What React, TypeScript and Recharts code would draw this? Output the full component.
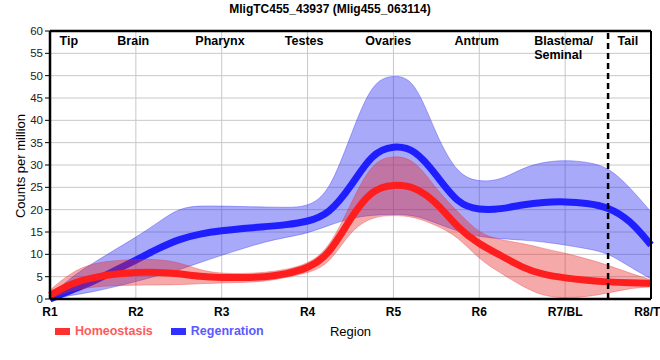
import React from 'react';
import {
  ComposedChart,
  Area,
  Line,
  XAxis,
  YAxis,
  CartesianGrid,
  ReferenceLine,
} from 'recharts';

// sample positions along the body axis (1 = R1 ... 8 = R8)
const positions = [1, 1.25, 1.5, 1.75, 2, 2.25, 2.5, 2.75, 3, 3.25, 3.5, 3.75, 4, 4.25, 4.5, 4.75, 5, 5.25, 5.5, 5.75, 6, 6.25, 6.5, 6.75, 7, 7.25, 7.5, 7.75, 8];
const regionTicks = ['R1', 'R2', 'R3', 'R4', 'R5', 'R6', 'R7/BL', 'R8/TL'];

const homeoMean = [0.8, 3.6, 4.8, 5.6, 6.0, 6.0, 5.7, 5.0, 4.8, 4.8, 4.9, 5.6, 6.8, 9.8, 18.2, 24.6, 25.7, 25.2, 21.7, 15.9, 12.2, 9.8, 7.0, 5.4, 4.7, 4.2, 3.8, 3.6, 3.5];
const homeoLow = [0, 2.0, 2.7, 3.0, 3.1, 3.1, 3.2, 3.4, 3.6, 3.7, 3.9, 4.8, 5.8, 7.6, 15.4, 18.4, 18.8, 18.4, 16.5, 14.0, 8.8, 5.8, 2.8, 0.6, 0.2, 0.5, 1.3, 2.4, 2.7];
const homeoHigh = [2.0, 6.1, 8.0, 8.6, 8.9, 8.9, 8.3, 6.4, 5.7, 5.7, 5.9, 6.6, 7.8, 11.2, 21.2, 30.8, 32.2, 31.3, 24.5, 19.5, 14.6, 13.2, 12.5, 11.3, 10.3, 9.0, 7.6, 5.8, 4.3];

const regenMean = [0, 2.0, 3.9, 6.3, 8.7, 11.2, 13.4, 14.6, 15.3, 15.8, 16.2, 16.6, 17.3, 19.0, 25.0, 32.7, 34.4, 33.6, 27.8, 21.2, 19.9, 20.1, 21.1, 21.7, 21.8, 21.5, 20.6, 17.8, 12.1];
const regenLow = [0, 0.8, 1.6, 2.7, 3.9, 5.2, 6.5, 8.2, 9.8, 11.3, 12.8, 13.8, 14.7, 16.5, 18.1, 18.8, 19.0, 18.8, 17.0, 15.1, 13.9, 13.5, 13.2, 12.8, 12.1, 11.3, 10.3, 7.2, 4.5];
const regenHigh = [0.5, 5.0, 8.0, 11.0, 13.8, 17.0, 20.4, 20.9, 20.8, 20.7, 20.6, 20.5, 20.6, 23.7, 36.5, 48.8, 50.2, 49.3, 36.5, 27.7, 26.2, 26.6, 29.3, 30.7, 31.1, 30.7, 29.6, 25.1, 19.5];

const tissueLabels = [
  { lines: ['Tip'], at: 1.22, anchor: 'middle' },
  { lines: ['Brain'], at: 1.97, anchor: 'middle' },
  { lines: ['Pharynx'], at: 2.98, anchor: 'middle' },
  { lines: ['Testes'], at: 3.96, anchor: 'middle' },
  { lines: ['Ovaries'], at: 4.94, anchor: 'middle' },
  { lines: ['Antrum'], at: 5.97, anchor: 'middle' },
  { lines: ['Blastema/', 'Seminal'], at: 6.64, anchor: 'start' },
  { lines: ['Tail'], at: 7.73, anchor: 'middle' },
];

const yTicks = [0, 5, 10, 15, 20, 25, 30, 35, 40, 45, 50, 55, 60];
const xTicks = [1, 2, 3, 4, 5, 6, 7, 8];

const FONT = '"Liberation Sans", Arial, sans-serif';
const RED = '#ff1e1e';
const BLUE = '#1e1eff';

const data = positions.map((x, i) => ({
  x,
  homeo: homeoMean[i],
  homeoBand: [homeoLow[i], homeoHigh[i]],
  regen: regenMean[i],
  regenBand: [regenLow[i], regenHigh[i]],
}));

function tissueLabel(lines: string[], anchor: string) {
  return (props: any) => {
    const vb = props.viewBox || {};
    return (
      <text
        x={vb.x}
        y={(vb.y ?? 31) + 14}
        textAnchor={anchor}
        fontFamily={FONT}
        fontSize={12.5}
        fontWeight="bold"
        fill="#000"
      >
        {lines.map((l, i) => (
          <tspan key={l} x={vb.x} dy={i === 0 ? 0 : 14}>
            {l}
          </tspan>
        ))}
      </text>
    );
  };
}

export default function App() {
  return (
    <div style={{ position: 'absolute', left: 0, top: 0, width: 660, height: 360, background: '#fff', fontFamily: FONT }}>
      <div style={{ position: 'absolute', left: 0, top: 2, width: 660, textAlign: 'center', fontSize: 12, fontWeight: 'bold', lineHeight: '14px' }}>
        MligTC455_43937 (Mlig455_063114)
      </div>
      <ComposedChart width={660} height={360} data={data} margin={{ top: 31, right: 9, bottom: 21, left: 0 }}>
        <CartesianGrid stroke="#c8c8c8" strokeWidth={1} />
        <XAxis
          dataKey="x"
          type="number"
          domain={[1, 8]}
          ticks={xTicks}
          tickFormatter={(v: number) => regionTicks[v - 1]}
          interval={0}
          height={40}
          axisLine={{ stroke: '#000', strokeWidth: 2.5 }}
          tickLine={false}
          tickSize={6}
          tickMargin={2}
          tick={{ fill: '#000', fontSize: 12, fontWeight: 'bold', fontFamily: FONT }}
          label={{ value: 'Region', position: 'insideBottom', offset: 3, fill: '#000', fontSize: 13, fontFamily: FONT }}
        />
        <YAxis
          type="number"
          domain={[0, 60]}
          ticks={yTicks}
          interval={0}
          width={50}
          axisLine={{ stroke: '#000', strokeWidth: 2.5 }}
          tickLine={{ stroke: '#000' }}
          tickSize={5}
          tickMargin={2}
          tick={{ fill: '#222', fontSize: 11.5, fontFamily: FONT }}
          label={() => (
            <text x={20} y={166} transform="rotate(-90 20 166)" textAnchor="middle" dominantBaseline="central" fontFamily={FONT} fontSize={13} fill="#000">
              Counts per million
            </text>
          )}
        />
        <Area
          dataKey="regenBand"
          type="basis"
          fill="rgb(40,40,240)"
          fillOpacity={0.4}
          stroke="rgb(40,40,240)"
          strokeOpacity={0.35}
          strokeWidth={1}
          isAnimationActive={false}
          zIndex={100}
        />
        <Line dataKey="regen" type="basis" stroke={BLUE} strokeWidth={7} dot={false} activeDot={false} isAnimationActive={false} zIndex={101} />
        <Area
          dataKey="homeoBand"
          type="basis"
          fill="rgb(230,40,40)"
          fillOpacity={0.4}
          stroke="rgb(230,40,40)"
          strokeOpacity={0.3}
          strokeWidth={1}
          isAnimationActive={false}
          zIndex={102}
        />
        <Line dataKey="homeo" type="basis" stroke={RED} strokeWidth={7} dot={false} activeDot={false} isAnimationActive={false} zIndex={103} />
        <ReferenceLine x={7.5} stroke="#000" strokeWidth={2.5} strokeDasharray="6 4" zIndex={600} />
        <ReferenceLine y={60} stroke="#000" strokeWidth={2.5} zIndex={600} />
        <ReferenceLine x={8} stroke="#000" strokeWidth={2} zIndex={600} />
        {tissueLabels.map((t) => (
          <ReferenceLine key={t.lines[0]} x={t.at} stroke="none" label={tissueLabel(t.lines, t.anchor)} zIndex={600} />
        ))}
      </ComposedChart>
      <div style={{ position: 'absolute', left: 55, top: 324, display: 'flex', alignItems: 'center', fontSize: 12.5, fontWeight: 'bold', lineHeight: '15px' }}>
        <span style={{ display: 'inline-block', width: 15, height: 7, background: '#ff3030', marginRight: 5 }} />
        <span style={{ color: '#ff5a5a', marginRight: 18 }}>Homeostasis</span>
        <span style={{ display: 'inline-block', width: 15, height: 7, background: '#3030ff', marginRight: 5 }} />
        <span style={{ color: '#5a5aff' }}>Regenration</span>
      </div>
    </div>
  );
}
